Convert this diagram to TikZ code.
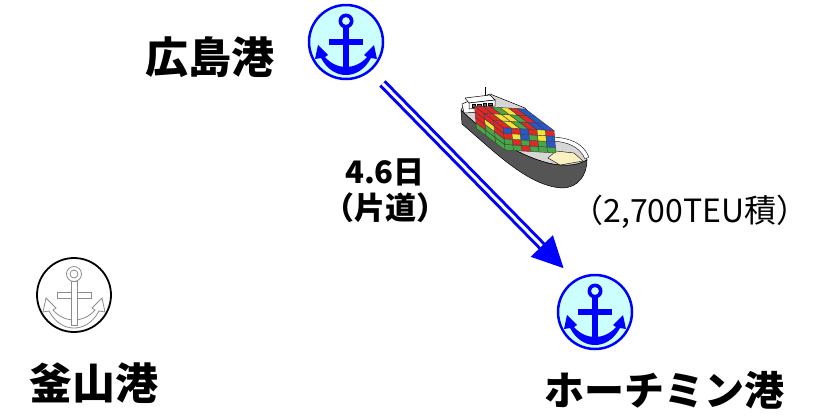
\documentclass[tikz,border=0pt]{standalone}
\usepackage{fontspec}
\setmainfont{Noto Sans CJK JP}
\usetikzlibrary{calc}

\definecolor{portcyan}{HTML}{CCFFFF}
\definecolor{hullgray}{HTML}{555555}
\definecolor{deckgray}{HTML}{D6D6D6}
\definecolor{bowdeck}{HTML}{FBF0C0}
\definecolor{boxred}{HTML}{E32626}
\definecolor{boxyel}{HTML}{F4E236}
\definecolor{boxgrn}{HTML}{45A845}
\definecolor{boxblu}{HTML}{2658C8}

\tikzset{
  port/.style={circle, draw=blue, fill=portcyan, line width=2.5pt,
    minimum size=74pt, inner sep=0pt},
  oldport/.style={port, draw=black, fill=white, line width=1.8pt},
  portname/.style={font=\bfseries\fontsize{43}{43}\selectfont},
  note/.style={font=\fontsize{32}{34}\selectfont},
  boldnote/.style={font=\bfseries\fontsize{31}{33}\selectfont},
  route/.style={draw=blue, line width=3pt, double=white, double distance=3pt},
  box/.style={draw=black!75, line width=0.4pt},
  pics/anchorsign/.style={code={
    % stock, crown with flukes, shank, ring
    \path[#1] (-17,-3) -- (17,-3) -- (17,3) -- (-17,3) -- cycle;
    \path[#1] (-28,3) -- (-31,17) -- (-25,16)
      .. controls (-18,29) and (-8,33) .. (0,33)
      .. controls (8,33) and (18,29) .. (25,16) -- (31,17) -- (28,3)
      -- (18,13) -- (21,15)
      .. controls (15,22) and (7,25) .. (0,25)
      .. controls (-7,25) and (-15,22) .. (-21,15) -- (-18,13) -- cycle;
    \path[#1] (-3,-14) -- (3,-14) -- (3,30) -- (-3,30) -- cycle;
    \path[#1, even odd rule] (0,-21) circle (7.5pt) (0,-21) circle (4pt);
  }},
}

\begin{document}
\begin{tikzpicture}[x=1pt, y=-1pt]
  \useasboundingbox (0,0) rectangle (821,416);

  % ports
  \node[port] (hiro) at (346,42) {};
  \node[oldport] (busan) at (74,295) {};
  \node[port] (hcm) at (595,312) {};
  \pic at (hiro) {anchorsign={fill=blue}};
  \pic at (busan) {anchorsign={draw=black!45, fill=white, line width=0.8pt}};
  \pic at (hcm) {anchorsign={fill=blue}};

  \node[portname] (hironame) at (210,57) {広島港};
  \node[portname] (busanname) at (94,383) {釜山港};
  \node[portname, font=\bfseries\fontsize{40}{40}\selectfont] (hcmname)
    at (664,390) {ホーチミン港};

  % sailing time and ship size
  \node[boldnote] (days) at (385,172) {4.6日};
  \node[boldnote] (oneway) at (385,208) {（片道）};
  \node[note] (teu) at (690,212) {（2,700TEU積）};

  % route, drawn as a double line with a big head
  \coordinate (dep) at ($(hiro.-50)!17pt!(hcm.122)$);
  \coordinate (arr) at ($(hcm.122)!16pt!(hiro.-50)$);
  \draw[route] (dep) -- ($(arr)!28pt!(dep)$);
  \fill[blue] (arr) -- ($(arr)!31pt!(dep)!15.5pt!90:(arr)$)
    -- ($(arr)!31pt!(dep)!15.5pt!-90:(arr)$) -- cycle;

  % container ship
  \draw[fill=deckgray, line width=0.5pt] (461,110)
    .. controls (487,136) and (520,156) .. (548,163)
    .. controls (560,166) and (575,167) .. (587,160)
    .. controls (585,148) and (570,140) .. (553,139)
    -- (525,108) -- (490,94) -- (465,103) -- cycle;
  \draw[fill=hullgray, line width=0.5pt] (461,110) -- (462,124)
    .. controls (495,152) and (528,186) .. (562,188)
    .. controls (578,188) and (587,175) .. (587,160)
    .. controls (575,167) and (560,166) .. (548,163)
    .. controls (520,156) and (487,136) .. (461,110);
  \draw[fill=white, line width=0.4pt] (553,137)
    .. controls (570,138) and (583,143) .. (589,157) -- (585,159)
    .. controls (580,147) and (568,142) .. (553,141) -- cycle;
  \draw[fill=bowdeck, line width=0.4pt] (548,158) -- (556,151) -- (574,153)
    -- (583,161) -- (560,165) -- cycle;
  % bridge and mast
  \draw[line width=0.6pt] (485,87) -- (485,98);
  \draw[fill=white, line width=0.5pt] (462,104) -- (469,101) -- (480,103)
    -- (480,112) -- (464,113) -- cycle;
  \draw[fill=white, line width=0.5pt] (465,98) -- (490,95) -- (495,100)
    -- (469,103) -- cycle;
  \draw[fill=white, line width=0.5pt] (469,103) -- (495,100) -- (495,106)
    -- (469,109) -- cycle;
  \foreach \w in {0,1,2,3}
    \draw[fill=black!60, line width=0.3pt] (472+5.5*\w,104.5-0.6*\w)
      rectangle ++(3.5,2.5);

  % container stack: front face, port side, top
  \begin{scope}[shift={(505,150)}, x={(8.5pt,-0.5pt)}, y={(-0.5pt,5.6pt)},
      z={(-9.5pt,7.2pt)}]
    \foreach \j/\cols in {0/{boxgrn,boxgrn,boxred,boxgrn,boxgrn,boxgrn},
        1/{boxgrn,boxred,boxgrn,boxred,boxgrn,boxblu},
        2/{boxred,boxyel,boxblu,boxgrn,boxyel,boxblu},
        3/{boxblu,boxred,boxblu,boxred,boxyel,boxred}}
      \foreach \c [count=\i from 0] in \cols
        \draw[box, fill=\c] (\i,\j,0) -- (\i+1,\j,0) -- (\i+1,\j+1,0)
          -- (\i,\j+1,0) -- cycle;
    \foreach \j/\cols in {0/{boxgrn,boxgrn,boxgrn},
        1/{boxgrn,boxgrn,boxred},
        2/{boxred,boxyel,boxred},
        3/{boxred,boxred,boxred}}
      \foreach \c [count=\k from 0] in \cols
        \draw[box, fill=\c] (0,\j,\k) -- (0,\j,\k+1) -- (0,\j+1,\k+1)
          -- (0,\j+1,\k) -- cycle;
    \foreach \i/\cols in {0/{boxred,boxred,boxred},
        1/{boxyel,boxyel,boxred},
        2/{boxgrn,boxyel,boxgrn},
        3/{boxred,boxgrn,boxyel},
        4/{boxblu,boxred,boxred},
        5/{boxblu,boxblu,boxblu}}
      \foreach \c [count=\k from 0] in \cols
        \draw[box, fill=\c] (\i,4,\k) -- (\i+1,4,\k) -- (\i+1,4,\k+1)
          -- (\i,4,\k+1) -- cycle;
  \end{scope}
\end{tikzpicture}
\end{document}
